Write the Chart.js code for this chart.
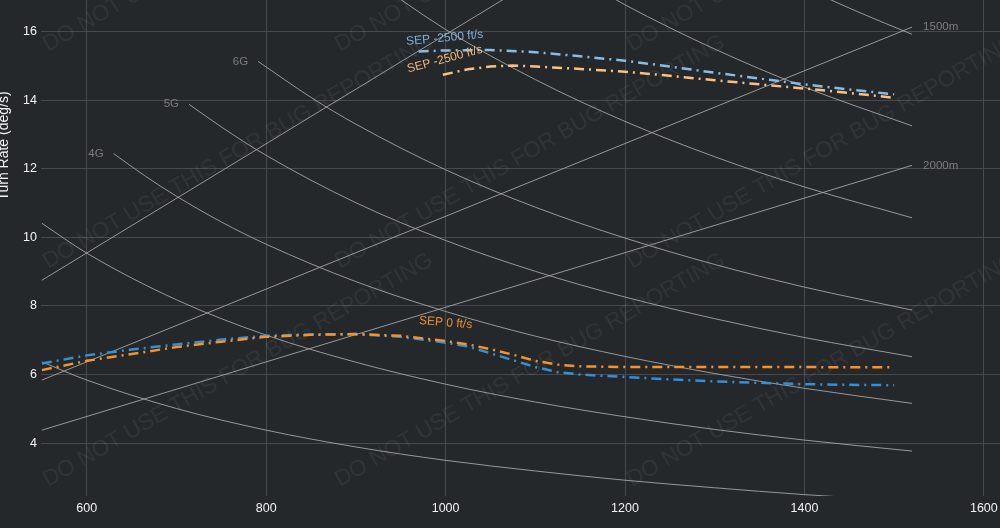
<!DOCTYPE html>
<html>
<head>
<meta charset="utf-8">
<script src="https://cdn.jsdelivr.net/npm/chart.js@4.4.1/dist/chart.umd.min.js"></script>
<style>
  html, body { margin: 0; padding: 0; background: #25282b; overflow: hidden; }
  #chart { display: block; }
</style>
</head>
<body>
<canvas id="chart" width="1000" height="528"></canvas>
<script>
Chart.defaults.font.family = '"Liberation Sans", Arial, sans-serif';

// axis ticks (speed km/h, turn rate deg/s)
const xTicks = [600, 800, 1000, 1200, 1400, 1600];
const yTicks = [4, 6, 8, 10, 12, 14, 16];

// SEP 0 ft/s curves
const sep0Speed = [550, 600, 650, 700, 750, 800, 850, 900, 950, 1000, 1025, 1050, 1075, 1100, 1125, 1150, 1200, 1250, 1300, 1350, 1400, 1450, 1500];
const sep0Blue = [6.32, 6.56, 6.73, 6.88, 7.02, 7.13, 7.17, 7.18, 7.10, 6.93, 6.82, 6.62, 6.42, 6.22, 6.07, 6.00, 5.93, 5.86, 5.80, 5.76, 5.72, 5.70, 5.69];
const sep0Orange = [6.13, 6.40, 6.60, 6.80, 6.96, 7.10, 7.16, 7.18, 7.13, 6.98, 6.88, 6.74, 6.58, 6.40, 6.29, 6.24, 6.22, 6.22, 6.22, 6.22, 6.22, 6.21, 6.21];

// SEP -2500 ft/s curves
const sep2500BlueSpeed = [970, 1000, 1050, 1100, 1150, 1200, 1250, 1300, 1350, 1400, 1450, 1500];
const sep2500Blue = [15.42, 15.45, 15.46, 15.40, 15.28, 15.15, 14.98, 14.80, 14.63, 14.46, 14.31, 14.17];
const sep2500OrangeSpeed = [997, 1025, 1050, 1075, 1100, 1150, 1200, 1250, 1300, 1350, 1400, 1450, 1500];
const sep2500Orange = [14.74, 14.90, 14.98, 15.01, 14.98, 14.91, 14.83, 14.71, 14.58, 14.46, 14.34, 14.21, 14.07];

// load factor lines
const gNames = ['2G', '3G', '4G', '5G', '6G', '8G', '10G', '12G'];
const gSpeeds = [
  [550, 600, 700, 800, 900, 1000, 1100, 1200, 1300, 1400, 1520],
  [550, 600, 700, 800, 900, 1000, 1100, 1200, 1300, 1400, 1520],
  [630, 665, 700, 750, 800, 900, 1000, 1100, 1200, 1300, 1400, 1520],
  [714, 750, 800, 900, 1000, 1100, 1200, 1300, 1400, 1520],
  [791, 850, 900, 1000, 1100, 1200, 1300, 1400, 1520],
  [900, 1000, 1100, 1200, 1300, 1400, 1520],
  [1100, 1200, 1300, 1400, 1520],
  [1350, 1400, 1460, 1520]
];
const gRates = [
  [6.37, 5.84, 5.01, 4.38, 3.89, 3.50, 3.19, 2.92, 2.70, 2.50, 2.31],
  [10.41, 9.54, 8.18, 7.15, 6.36, 5.72, 5.20, 4.77, 4.40, 4.09, 3.77],
  [12.44, 11.79, 11.20, 10.45, 9.80, 8.71, 7.84, 7.12, 6.53, 6.03, 5.60, 5.16],
  [13.88, 13.22, 12.39, 11.01, 9.91, 9.01, 8.26, 7.63, 7.08, 6.52],
  [15.13, 14.08, 13.30, 11.97, 10.88, 9.98, 9.21, 8.55, 7.88],
  [17.85, 16.06, 14.60, 13.38, 12.35, 11.47, 10.57],
  [18.30, 16.78, 15.49, 14.38, 13.25],
  [17.92, 17.28, 16.57, 15.92]
];

// turn radius lines
const radiusNames = ['1000m', '1500m', '2000m'];
const radiusSpeeds = [550, 1520];
const radiusRates = [
  [8.75, 24.19],
  [5.84, 16.13],
  [4.38, 12.10]
];

// curve labels
const sepLabels = [
  { text: 'SEP -2500 ft/s', x: 999, y: 15.81, angle: -5.5, color: '#7fb0d8' },
  { text: 'SEP -2500 ft/s', x: 999, y: 15.19, angle: -15, color: '#f3b57a' },
  { text: 'SEP 0 ft/s', x: 1000, y: 7.51, angle: 4.5, color: '#ec8f34' }
];

const toPoints = (xs, ys) => xs.map((x, i) => ({ x: x, y: ys[i] }));
const refColor = 'rgba(170,170,170,0.85)';

const datasets = [];

// SEP curves first so they sit on top
datasets.push({ data: toPoints(sep2500BlueSpeed, sep2500Blue), borderColor: '#86bce6', borderWidth: 2.5, borderDash: [10, 5, 2, 5] });
datasets.push({ data: toPoints(sep2500OrangeSpeed, sep2500Orange), borderColor: '#fbbf80', borderWidth: 2.5, borderDash: [10, 5, 2, 5] });
datasets.push({ data: toPoints(sep0Speed, sep0Orange), borderColor: '#f7922a', borderWidth: 2.5, borderDash: [10, 5, 2, 5] });
datasets.push({ data: toPoints(sep0Speed, sep0Blue), borderColor: '#3490d6', borderWidth: 2.5, borderDash: [10, 5, 2, 5] });

gNames.forEach((name, i) => {
  datasets.push({ data: toPoints(gSpeeds[i], gRates[i]), borderColor: refColor, borderWidth: 1, cubicInterpolationMode: 'monotone', tag: name, tagAt: 'start' });
});
radiusNames.forEach((name, i) => {
  datasets.push({ data: toPoints(radiusSpeeds, radiusRates[i]), borderColor: refColor, borderWidth: 1, tag: name, tagAt: 'end' });
});

// dark background
const background = {
  id: 'background',
  beforeDraw(chart) {
    const ctx = chart.ctx;
    ctx.save();
    ctx.fillStyle = '#25282b';
    ctx.fillRect(0, 0, chart.width, chart.height);
    ctx.restore();
  }
};

// repeated watermark text
const watermark = {
  id: 'watermark',
  beforeDatasetsDraw(chart) {
    const ctx = chart.ctx;
    ctx.save();
    ctx.font = '22.5px "Liberation Sans", Arial, sans-serif';
    ctx.fillStyle = 'rgba(255,255,255,0.06)';
    ctx.textBaseline = 'alphabetic';
    [48, 340, 632].forEach(x => {
      [52, 269, 487].forEach(y => {
        ctx.save();
        ctx.translate(x, y);
        ctx.rotate(-30 * Math.PI / 180);
        ctx.fillText('DO NOT USE THIS FOR BUG REPORTING', 0, 0);
        ctx.restore();
      });
    });
    ctx.restore();
  }
};

// G / radius labels and SEP labels
const curveLabels = {
  id: 'curveLabels',
  afterDatasetsDraw(chart) {
    const ctx = chart.ctx;
    const area = chart.chartArea;
    ctx.save();
    ctx.font = '11.5px "Liberation Sans", Arial, sans-serif';
    ctx.fillStyle = '#7c7c7c';
    ctx.textBaseline = 'middle';
    chart.data.datasets.forEach((ds, i) => {
      if (!ds.tag) return;
      const pts = chart.getDatasetMeta(i).data;
      const p = ds.tagAt === 'start' ? pts[0] : pts[pts.length - 1];
      if (p.y < area.top || p.y > area.bottom) return;
      if (ds.tagAt === 'start') {
        // skip labels that would fall left of the plot
        if (p.x - 10 - ctx.measureText(ds.tag).width < area.left) return;
        ctx.textAlign = 'right';
        ctx.fillText(ds.tag, p.x - 10, p.y);
      } else {
        ctx.textAlign = 'left';
        ctx.fillText(ds.tag, p.x + 11, p.y);
      }
    });

    ctx.font = '12px "Liberation Sans", Arial, sans-serif';
    ctx.textAlign = 'center';
    sepLabels.forEach(l => {
      ctx.save();
      ctx.translate(chart.scales.x.getPixelForValue(l.x), chart.scales.y.getPixelForValue(l.y));
      ctx.rotate(l.angle * Math.PI / 180);
      ctx.fillStyle = l.color;
      ctx.fillText(l.text, 0, 0);
      ctx.restore();
    });
    ctx.restore();
  }
};

// y axis title (partly cut at the left edge, like the reference)
const yTitle = {
  id: 'yTitle',
  afterDraw(chart) {
    const ctx = chart.ctx;
    ctx.save();
    ctx.translate(8, 146);
    ctx.rotate(-Math.PI / 2);
    ctx.font = '14px "Liberation Sans", Arial, sans-serif';
    ctx.fillStyle = '#f2f2f2';
    ctx.textAlign = 'center';
    ctx.textBaseline = 'alphabetic';
    ctx.fillText('Turn Rate (deg/s)', 0, 0);
    ctx.restore();
  }
};

const gridColor = '#46494d';

new Chart(document.getElementById('chart'), {
  type: 'line',
  data: { datasets: datasets.map(d => Object.assign({ pointRadius: 0, fill: false, tension: 0 }, d)) },
  options: {
    responsive: false,
    animation: false,
    events: [],
    layout: { padding: 0 },
    plugins: { legend: { display: false }, tooltip: { enabled: false } },
    scales: {
      x: {
        type: 'linear',
        min: 549,
        max: 1618,
        border: { display: false },
        grid: { color: gridColor, drawTicks: false },
        ticks: { color: '#f2f2f2', font: { size: 12.5 }, padding: 5, callback: v => String(v) },
        afterBuildTicks: scale => { scale.ticks = xTicks.map(v => ({ value: v })); },
        afterFit: scale => { scale.height = 32; scale.paddingLeft = 0; scale.paddingRight = 0; }
      },
      y: {
        type: 'linear',
        min: 2.46,
        max: 16.92,
        border: { display: false },
        grid: { color: gridColor, drawTicks: false },
        ticks: { color: '#f2f2f2', font: { size: 12.5 }, padding: 4, callback: v => String(v) },
        afterBuildTicks: scale => { scale.ticks = yTicks.map(v => ({ value: v })); },
        afterFit: scale => { scale.width = 41; scale.paddingTop = 0; scale.paddingBottom = 0; }
      }
    }
  },
  plugins: [background, watermark, curveLabels, yTitle]
});
</script>
</body>
</html>
